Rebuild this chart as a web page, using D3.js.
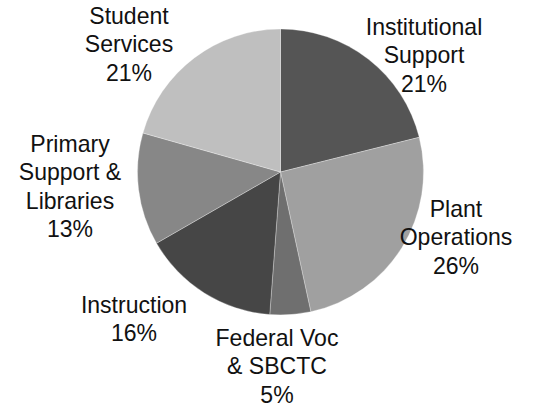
<!DOCTYPE html>
<html><head>
<meta charset="utf-8">
<style>
body { margin: 0; background: #fff; }
.lbl { font-family: "Liberation Sans", Arial, sans-serif; font-size: 24px; fill: #111; }
</style>
</head><body>
<svg width="550" height="408"></svg>
<script src="https://d3js.org/d3.v7.min.js"></script>
<script>

// slices, clockwise from 12 o'clock
var categories = ["Institutional Support", "Plant Operations", "Federal Voc & SBCTC",
                  "Instruction", "Primary Support & Libraries", "Student Services"];
var values = [21.1, 25.5, 4.6, 15.5, 12.7, 20.6];
var labelLines = [
  ["Institutional", "Support"],
  ["Plant", "Operations"],
  ["Federal Voc", "& SBCTC"],
  ["Instruction"],
  ["Primary", "Support &", "Libraries"],
  ["Student", "Services"]
];

var colors = ["#555555", "#a0a0a0", "#6f6f6f", "#464646", "#878787", "#bfbfbf"];
// label anchor (center x, first baseline) relative to pie center
var labelAt = [[143.5, -137], [175.5, 45], [-3.5, 174], [-146.5, 141], [-210.5, -20], [-151.5, -148]];

var svg = d3.select("svg"),
    cx = 280.5, cy = 172, radius = 143, lineH = 28.5;

var data = categories.map(function(c, i) {
  return { name: c, value: values[i], lines: labelLines[i], i: i };
});

var pie = d3.pie().sort(null).value(function(d) { return d.value; });
var arc = d3.arc().innerRadius(0).outerRadius(radius);

var g = svg.append("g")
    .attr("transform", "translate(" + cx + "," + cy + ")");

g.selectAll("path")
  .data(pie(data))
  .enter().append("path")
    .attr("d", arc)
    .attr("fill", function(d) { return colors[d.data.i]; })
    .attr("stroke", "#fff")
    .attr("stroke-width", 0.3);

var labels = g.selectAll(".lbl")
  .data(data)
  .enter().append("text")
    .attr("class", "lbl")
    .attr("text-anchor", "middle")
    .attr("transform", function(d) {
      return "translate(" + labelAt[d.i][0] + "," + labelAt[d.i][1] + ") scale(0.96,1)";
    });

labels.each(function(d) {
  var t = d3.select(this);
  var lines = d.lines.concat([Math.round(d.value) + "%"]);
  lines.forEach(function(s, k) {
    t.append("tspan").attr("x", 0).attr("y", k * lineH).text(s);
  });
});

</script>
</body></html>
